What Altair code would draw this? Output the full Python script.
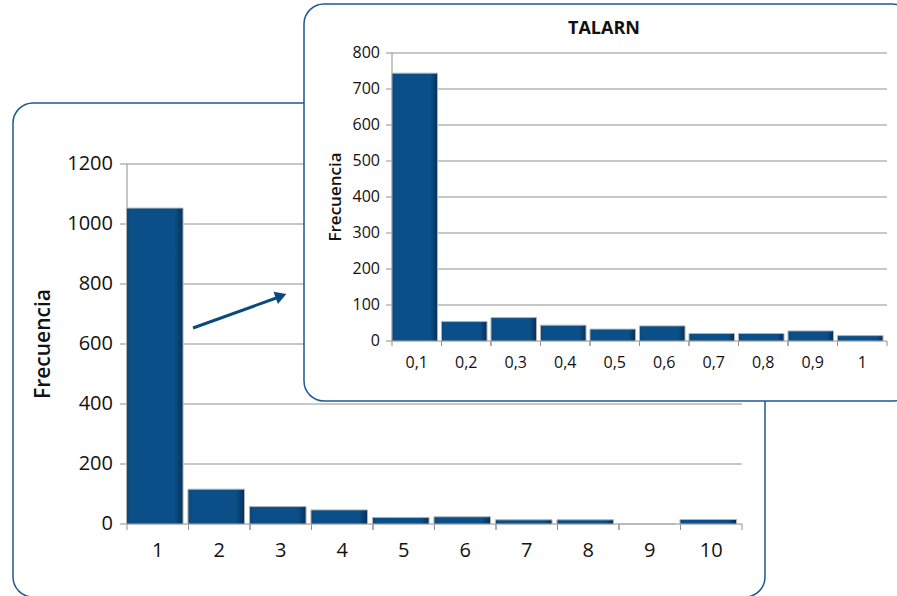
import altair as alt
import pandas as pd

# ---------------- data ----------------
main_cats = ["1", "2", "3", "4", "5", "6", "7", "8", "9", "10"]
main_vals = [1053, 116, 58, 47, 22, 24, 14, 14, 0, 15]
main_yticks = [0, 200, 400, 600, 800, 1000, 1200]

inset_cats = ["0,1", "0,2", "0,3", "0,4", "0,5", "0,6", "0,7", "0,8", "0,9", "1"]
inset_vals = [744, 54, 65, 44, 33, 42, 21, 21, 28, 15]
inset_yticks = [0, 100, 200, 300, 400, 500, 600, 700, 800]

inset_title = "TALARN"
y_title = "Frecuencia"

# ---------------- styles ----------------
FONT = "Open Sans"
BOX = "#1d5a91"
GRID = "#8f8f8f"
ARROW = "#0b4a7e"
bar_fill = alt.Gradient(
    gradient="linear", x1=0, x2=1, y1=0, y2=0,
    stops=[alt.GradientStop(color="#0a4878", offset=0),
           alt.GradientStop(color="#0b4f88", offset=0.08),
           alt.GradientStop(color="#0b4f88", offset=0.85),
           alt.GradientStop(color="#05305a", offset=1)],
)

main_df = pd.DataFrame({"cat": main_cats, "val": main_vals})
main_tick_df = pd.DataFrame({"v": main_yticks})
inset_df = pd.DataFrame({"cat": inset_cats, "val": inset_vals})
inset_tick_df = pd.DataFrame({"v": inset_yticks})
one = pd.DataFrame({"a": [0]})

# pixel ranges of the scales
MX = [127, 742]
MY = [524, 164]
IX = [392, 887]
IY = [341, 53]

def xband(cats, rng, pi=0.0, po=0.0, bp=None):
    kw = {}
    if bp is not None:
        kw["bandPosition"] = bp
    return alt.X("cat:N", sort=cats, axis=None,
                 scale=alt.Scale(domain=cats, range=rng, paddingInner=pi, paddingOuter=po), **kw)

def yq(dom, rng, field="val"):
    return alt.Y(f"{field}:Q", axis=None, scale=alt.Scale(domain=dom, range=rng, zero=True, nice=False))

layers = []

# ---- main panel box ----
layers.append(alt.Chart(one).mark_rect(fill="white", stroke=BOX, strokeWidth=1.5, cornerRadius=20).encode(
    x=alt.value(13), x2=alt.value(765), y=alt.value(103), y2=alt.value(597)))

# gridlines
layers.append(alt.Chart(main_tick_df).mark_rule(color=GRID, strokeWidth=1).encode(
    x=alt.value(120), x2=alt.value(MX[1]), y=yq([0, 1200], MY, "v")))
# y axis line
layers.append(alt.Chart(one).mark_rule(color=GRID, strokeWidth=1).encode(
    x=alt.value(MX[0]), y=alt.value(MY[1]), y2=alt.value(MY[0])))
# x ticks
for bp in (0, 1):
    layers.append(alt.Chart(main_df).mark_rule(color=GRID, strokeWidth=1).encode(
        x=xband(main_cats, MX, bp=bp), y=alt.value(MY[0]), y2=alt.value(MY[0] + 6)))
# bars
layers.append(alt.Chart(main_df).mark_bar(fill=bar_fill, stroke="#b3b3b3", strokeWidth=1, xOffset=-3).encode(
    x=xband(main_cats, MX, 0.08, 0.04), y=yq([0, 1200], MY)))
# x labels
layers.append(alt.Chart(main_df).mark_text(font=FONT, fontSize=20, color="#111111", baseline="middle").encode(
    x=xband(main_cats, MX), y=alt.value(551), text="cat:N"))
# y labels
layers.append(alt.Chart(main_tick_df).mark_text(font=FONT, fontSize=20, color="#111111", align="right",
                                                baseline="middle").encode(
    x=alt.value(113), y=yq([0, 1200], MY, "v"), text="v:Q"))
# y title
layers.append(alt.Chart(pd.DataFrame({"t": [y_title]})).mark_text(
    font=FONT, fontSize=21, fontWeight=600, color="#111111", angle=270, baseline="middle").encode(
    x=alt.value(44), y=alt.value(344), text="t:N"))

# arrow
layers.append(alt.Chart(one).mark_rule(color=ARROW, strokeWidth=3).encode(
    x=alt.value(193), y=alt.value(328), x2=alt.value(279), y2=alt.value(297)))
layers.append(alt.Chart(one).mark_point(shape="triangle-up", filled=True, color=ARROW, size=170,
                                        opacity=1, angle=70).encode(
    x=alt.value(281), y=alt.value(296)))

# ---- inset panel box ----
layers.append(alt.Chart(one).mark_rect(fill="white", stroke=BOX, strokeWidth=1.5, cornerRadius=20).encode(
    x=alt.value(304), x2=alt.value(912), y=alt.value(4), y2=alt.value(401)))
layers.append(alt.Chart(inset_tick_df).mark_rule(color=GRID, strokeWidth=1).encode(
    x=alt.value(386), x2=alt.value(IX[1]), y=yq([0, 800], IY, "v")))
layers.append(alt.Chart(one).mark_rule(color=GRID, strokeWidth=1).encode(
    x=alt.value(IX[0]), y=alt.value(IY[1]), y2=alt.value(IY[0])))
for bp in (0, 1):
    layers.append(alt.Chart(inset_df).mark_rule(color=GRID, strokeWidth=1).encode(
        x=xband(inset_cats, IX, bp=bp), y=alt.value(IY[0]), y2=alt.value(IY[0] + 5)))
layers.append(alt.Chart(inset_df).mark_bar(fill=bar_fill, stroke="#b3b3b3", strokeWidth=1, xOffset=-2).encode(
    x=xband(inset_cats, IX, 0.08, 0.04), y=yq([0, 800], IY)))
layers.append(alt.Chart(inset_df).mark_text(font=FONT, fontSize=16, color="#111111", baseline="middle").encode(
    x=xband(inset_cats, IX), y=alt.value(363), text="cat:N"))
layers.append(alt.Chart(inset_tick_df).mark_text(font=FONT, fontSize=16, color="#111111", align="right",
                                                 baseline="middle").encode(
    x=alt.value(380), y=yq([0, 800], IY, "v"), text="v:Q"))
layers.append(alt.Chart(pd.DataFrame({"t": [y_title]})).mark_text(
    font=FONT, fontSize=17, fontWeight=600, color="#111111", angle=270, baseline="middle").encode(
    x=alt.value(336), y=alt.value(197), text="t:N"))
layers.append(alt.Chart(pd.DataFrame({"t": [inset_title]})).mark_text(
    font=FONT, fontSize=18, fontWeight="bold", color="#111111", baseline="middle").encode(
    x=alt.value(604), y=alt.value(29), text="t:N"))

chart = alt.layer(*layers).resolve_scale(x="independent", y="independent").properties(
    width=897, height=596, padding=0, autosize=alt.AutoSizeParams(type="none"),
    background="white",
).configure_view(stroke=None)

chart.save("out.html", embed_options={"renderer": "svg", "actions": False})
